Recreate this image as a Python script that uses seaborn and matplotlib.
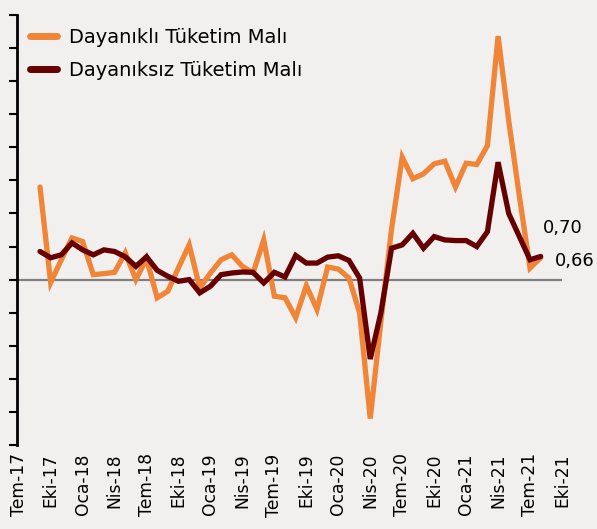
import matplotlib
matplotlib.use("Agg")
import matplotlib.pyplot as plt
import seaborn as sns
import pandas as pd
import numpy as np

# months: Jul-2017 (index 0) ... Oct-2021 (index 51); data Sep-2017 .. Aug-2021
tick_labels = ["Tem-17", "Eki-17", "Oca-18", "Nis-18", "Tem-18", "Eki-18", "Oca-19",
               "Nis-19", "Tem-19", "Eki-19", "Oca-20", "Nis-20", "Tem-20", "Eki-20",
               "Oca-21", "Nis-21", "Tem-21", "Eki-21"]

durable = [2.80, -0.09, 0.60, 1.26, 1.15, 0.15, 0.18, 0.22, 0.81, 0.00, 0.63, -0.55,
           -0.35, 0.36, 1.05, -0.25, 0.20, 0.60, 0.75, 0.40, 0.20, 1.20, -0.50, -0.55,
           -1.15, -0.18, -0.90, 0.38, 0.32, 0.05, -1.00, -4.20, -1.26, 1.53, 3.70, 3.05,
           3.20, 3.50, 3.58, 2.80, 3.52, 3.48, 4.05, 7.36, 4.80, 2.52, 0.35, 0.66]

nondurable = [0.85, 0.66, 0.75, 1.11, 0.90, 0.75, 0.90, 0.85, 0.69, 0.40, 0.69, 0.28,
              0.10, -0.05, 0.00, -0.40, -0.20, 0.15, 0.20, 0.23, 0.22, -0.10, 0.22, 0.08,
              0.73, 0.50, 0.50, 0.68, 0.72, 0.58, 0.05, -2.40, -1.00, 0.95, 1.05, 1.40,
              0.95, 1.30, 1.20, 1.18, 1.18, 1.00, 1.45, 3.55, 2.00, 1.30, 0.60, 0.70]

series_names = ["Dayanıklı Tüketim Malı", "Dayanıksız Tüketim Malı"]
end_labels = ["0,66", "0,70"]

months = list(range(2, 2 + len(durable)))
df = pd.DataFrame({
    "m": months * 2,
    "v": durable + nondurable,
    "s": [series_names[0]] * len(durable) + [series_names[1]] * len(nondurable),
})

bg = "#F2F0EF"
colors = {series_names[0]: "#F08437", series_names[1]: "#660000"}

sns.set_style("white")
plt.rcParams["font.family"] = ["DejaVu Sans"]
plt.rcParams["text.color"] = "black"
plt.rcParams["xtick.color"] = "black"
plt.rcParams["ytick.color"] = "black"

fig = plt.figure(figsize=(5.97, 5.29), dpi=100, facecolor=bg)
ax = fig.add_axes([17/597, 1 - 445/529, (562 - 17)/597, (445 - 15)/529])
ax.set_facecolor(bg)

ax.axhline(0, color="#7F7F7F", lw=1.6, zorder=1)
sns.lineplot(data=df, x="m", y="v", hue="s", palette=colors, lw=3.8, ax=ax,
             legend=False, zorder=3)
for line in ax.lines[1:]:
    line.set_solid_capstyle("round")
    line.set_solid_joinstyle("miter")

ax.set_xlim(-0.16, 51)
ax.set_ylim(-5, 8)
ax.set_xticks(np.arange(0, 52, 3))
ax.set_xticklabels(tick_labels, rotation=90, fontsize=12.3, color="black")
ax.set_yticks(np.arange(-5, 9, 1))
ax.set_yticklabels([])
ax.tick_params(axis="x", length=0, pad=6)
ax.tick_params(axis="y", length=6, width=1.5, direction="out", color="black", left=True)
for sp in ["top", "right", "bottom"]:
    ax.spines[sp].set_visible(False)
ax.spines["left"].set_linewidth(2)
ax.spines["left"].set_color("black")
ax.set_xlabel("")
ax.set_ylabel("")

from matplotlib.lines import Line2D
handles = [Line2D([0], [0], color=colors[n], lw=5, solid_capstyle="round") for n in series_names]
leg = ax.legend(handles, series_names, loc="upper left", bbox_to_anchor=(0.0, 1.0),
                frameon=False, fontsize=14, handlelength=1.4, handletextpad=0.6,
                labelspacing=0.75, borderaxespad=0.25, labelcolor="black")

ax.text(49.2, 1.55, end_labels[1], fontsize=13, ha="left", va="center", color="black")
ax.text(50.3, 0.55, end_labels[0], fontsize=13, ha="left", va="center", color="black")

fig.savefig("out.png", dpi=100, facecolor=bg)
